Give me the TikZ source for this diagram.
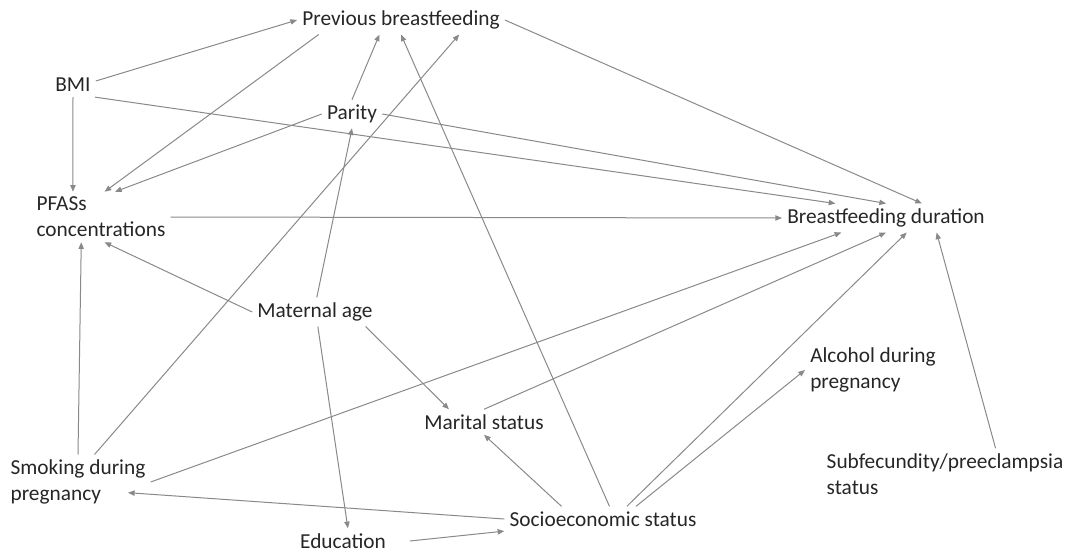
\documentclass[tikz,border=0pt]{standalone}
\usepackage{fontspec}
\setmainfont{Carlito}
\usepackage{tikz}
\usetikzlibrary{arrows.meta}
\definecolor{ArrowGray}{RGB}{137,137,137}
\definecolor{LabelBlack}{RGB}{38,38,38}

\begin{document}
\begin{tikzpicture}[
        % --- one unit = one pixel of the reference ---
        x=0.75pt, y=-0.75pt,
        % --- variables ---
        factor/.style={
            rectangle,
            draw=none,
            text=LabelBlack,
            align=left,
            font=\fontsize{16}{19.5}\selectfont,
            inner sep=3.75pt
        },
        % --- arrows ---
        effect/.style={draw=ArrowGray, line width=0.75pt, -{Triangle[length=5pt,width=4pt]}}
    ]
    \useasboundingbox (0,0) rectangle (1067,554);

    % --- variables ---
    \node[factor] (prev)    at (401,20)  {Previous breastfeeding};
    \node[factor] (bmi)     at (73,85)   {BMI};
    \node[factor] (parity)  at (352,114) {Parity};
    \node[factor] (pfas)    at (101,217) {PFASs\\concentrations};
    \node[factor] (bd)      at (886,218) {Breastfeeding duration};
    \node[factor] (matage)  at (315,312) {Maternal age};
    \node[factor] (marital) at (484,422) {Marital status};
    \node[factor] (alcohol) at (873,370) {Alcohol during\\pregnancy};
    \node[factor] (subf)    at (945,474) {Subfecundity/preeclampsia\\status};
    \node[factor] (smoking) at (78,482)  {Smoking during\\pregnancy};
    \node[factor] (socio)   at (603,519) {Socioeconomic status};
    \node[factor] (edu)     at (343,541) {Education};

    % --- BMI ---
    \draw[effect] (bmi.10) -- (prev.west);
    \draw[effect] (bmi.south) -- (pfas.138);
    \draw[effect] (bmi.-29) -- (bd.164);
    % --- previous breastfeeding ---
    \draw[effect] (prev.190) -- (pfas.82);
    \draw[effect] (prev.east) -- (bd.22);
    % --- parity ---
    \draw[effect] (parity.north) -- (prev.214);
    \draw[effect] (parity.west) -- (pfas.61);
    \draw[effect] (parity.east) -- (bd.north);
    % --- PFASs ---
    \draw[effect] (pfas.east) -- (bd.west);
    % --- maternal age ---
    \draw[effect] (matage.83) -- (parity.south);
    \draw[effect] (matage.west) -- (pfas.-82);
    \draw[effect] (matage.-79) -- (edu.69);
    \draw[effect] (matage.-16) -- (marital.160);
    % --- smoking ---
    \draw[effect] (smoking.north) -- (pfas.-128);
    \draw[effect] (smoking.59) -- (prev.-14);
    \draw[effect] (smoking.east) -- (bd.198);
    % --- marital status ---
    \draw[effect] (marital.north) -- (bd.south);
    % --- socioeconomic status ---
    \draw[effect] (socio.west) -- ([shift={(-17pt,-8pt)}]smoking.east);
    \draw[effect] (socio.163) -- (marital.south);
    \draw[effect] (socio.63) -- (prev.south);
    \draw[effect] (socio.28) -- (bd.-35);
    \draw[effect] (socio.21) -- (alcohol.west);
    % --- education ---
    \draw[effect] ([xshift=14pt]edu.east) -- (socio.187);
    % --- subfecundity ---
    \draw[effect] (subf.27) -- (bd.-16);

\end{tikzpicture}
\end{document}
